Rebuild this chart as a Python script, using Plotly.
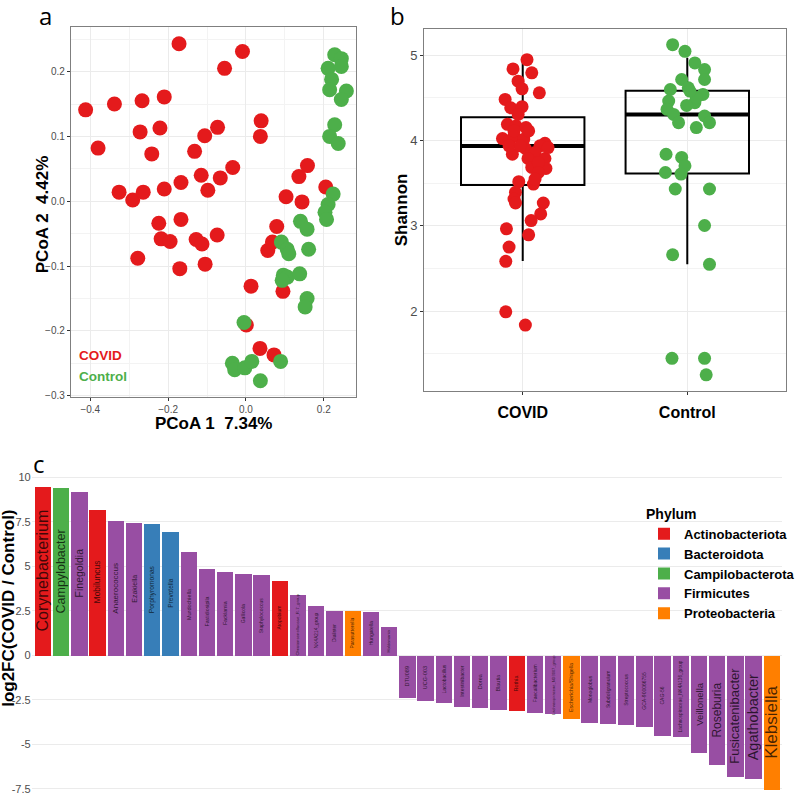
import plotly.graph_objects as go

# ---------------- Panel a: PCoA ----------------
covid_pc1 = [-0.172, -0.009, -0.055, -0.412, -0.338, -0.267, -0.210, -0.380, -0.272, -0.221,
             -0.242, -0.132, -0.106, -0.073, 0.039, 0.037, -0.326, -0.291, -0.264, -0.210,
             -0.167, -0.115, -0.098, -0.066, -0.034, -0.167, -0.224, -0.218, -0.195, -0.278,
             -0.170, -0.128, -0.113, -0.105, -0.074, 0.136, 0.158, 0.103, 0.144, 0.205,
             0.079, 0.056, 0.068, 0.013, 0.095, 0.001, 0.036, 0.072]
covid_pc2 = [0.243, 0.231, 0.205, 0.141, 0.150, 0.155, 0.161, 0.082, 0.107, 0.113,
             0.073, 0.077, 0.101, 0.114, 0.124, 0.100, 0.014, 0.002, 0.014, 0.019,
             0.029, 0.040, 0.017, 0.036, 0.052, -0.028, -0.034, -0.058, -0.062, -0.088,
             -0.104, -0.059, -0.066, -0.097, -0.052, 0.038, 0.055, 0.007, -0.001, 0.022,
             -0.039, -0.076, -0.063, -0.131, -0.139, -0.191, -0.227, -0.237]
control_pc1 = [0.228, 0.245, 0.211, 0.245, 0.220, 0.215, 0.258, 0.245, 0.228, 0.215,
               0.237, 0.224, 0.211, 0.203, 0.207, 0.140, 0.157, 0.161, 0.091, 0.106,
               0.110, 0.096, 0.106, 0.138, 0.093, 0.157, 0.152, -0.005, -0.035, -0.029,
               -0.003, 0.015, 0.089, 0.037]
control_pc2 = [0.226, 0.220, 0.205, 0.208, 0.188, 0.172, 0.170, 0.157, 0.118, 0.100,
               0.089, 0.011, -0.005, -0.017, -0.028, -0.031, -0.043, -0.074, -0.063, -0.074,
               -0.081, -0.114, -0.117, -0.112, -0.122, -0.150, -0.163, -0.187, -0.250, -0.260,
               -0.257, -0.247, -0.247, -0.277]

# ---------------- Panel b: Shannon ----------------
groups = ["COVID", "Control"]
covid_shannon = [4.949, 4.840, 4.794, 4.696, 4.607, 4.560, 4.482, 4.385, 4.397, 4.307,
                 4.191, 4.171, 4.152, 4.023, 3.996, 3.969, 3.938, 3.907, 3.840, 3.860,
                 3.790, 3.790, 3.685, 3.673, 3.743, 3.518, 3.490, 3.393, 3.315, 3.268,
                 3.268, 3.140, 3.062, 2.895, 2.965, 2.751, 2.584, 1.992, 1.837, 4.054,
                 4.016, 3.918, 3.626, 3.938, 4.113, 3.938, 4.113, 3.549]
covid_jitter = [0.026, -0.059, 0.055, -0.028, -0.004, 0.101, -0.107, -0.073, -0.004, -0.028,
                -0.093, -0.040, 0.020, -0.123, -0.083, 0.135, 0.105, 0.016, -0.063, 0.075,
                0.032, 0.135, 0.055, 0.141, 0.095, -0.024, 0.065, -0.044, -0.053, -0.044,
                0.125, 0.109, 0.051, 0.036, -0.099, -0.083, -0.103, -0.103, 0.016, -0.053,
                0.006, 0.154, 0.095, -0.083, 0.036, -0.014, -0.053, 0.075]
control_shannon = [5.125, 5.047, 4.911, 4.833, 4.716, 4.716, 4.619, 4.599, 4.541, 4.444,
                   4.412, 4.463, 4.366, 4.307, 4.288, 4.210, 4.210, 4.152, 3.840, 3.802,
                   3.704, 3.626, 3.607, 3.432, 3.432, 3.004, 2.661, 2.549, 1.447, 1.447,
                   1.253, 4.502, 4.580]
control_jitter = [-0.089, -0.014, 0.046, 0.105, -0.034, 0.105, 0.006, -0.103, 0.095, 0.046,
                  -0.004, -0.113, -0.123, -0.083, 0.105, -0.053, 0.135, 0.055, -0.129, -0.034,
                  -0.014, -0.133, -0.038, -0.073, 0.135, 0.105, -0.089, 0.135, -0.093, 0.105,
                  0.115, 0.055, 0.016]
box_q1 = [3.478, 3.615]
box_median = [3.937, 4.307]
box_q3 = [4.275, 4.583]
box_lower = [2.588, 2.550]
box_upper = [4.940, 4.970]

# ---------------- Panel c: log2FC ----------------
genera = ["Corynebacterium", "Campylobacter", "Finegoldia", "Mobiluncus", "Anaerococcus",
          "Ezakiella", "Porphyromonas", "Prevotella", "Murdochiella", "Fastidiosipila",
          "Facklamia", "Gallicola", "Staphylococcus", "Atopobium", "Christensenellaceae_R-7_group",
          "NK4A214_group", "Dialister", "Parasutterella", "Hungatella", "Holdemania",
          "DTU089", "UCG-003", "Lactobacillus", "Intestinibacter", "Dorea",
          "Blautia", "Rothia", "Faecalibacterium", "Lachnospiraceae_ND3007_group", "Escherichia/Shigella",
          "Monoglobus", "Subdoligranulum", "Streptococcus", "GCA-900066755", "CAG-56",
          "Lachnospiraceae_NK4A136_group", "Veillonella", "Roseburia", "Fusicatenibacter", "Agathobacter",
          "Klebsiella"]
log2fc = [9.47, 9.40, 9.20, 8.21, 7.54, 7.44, 7.41, 6.94, 5.80, 4.87,
          4.72, 4.61, 4.52, 4.18, 3.42, 2.81, 2.51, 2.49, 2.43, 1.63,
          -2.38, -2.54, -2.67, -2.90, -2.92, -3.05, -3.12, -3.20, -3.25, -3.57,
          -3.77, -3.85, -3.90, -3.98, -4.50, -4.56, -5.49, -6.12, -6.79, -6.94,
          -7.53]
phylum = ["Actinobacteriota", "Campilobacterota", "Firmicutes", "Actinobacteriota", "Firmicutes",
          "Firmicutes", "Bacteroidota", "Bacteroidota", "Firmicutes", "Firmicutes",
          "Firmicutes", "Firmicutes", "Firmicutes", "Actinobacteriota", "Firmicutes",
          "Firmicutes", "Firmicutes", "Proteobacteria", "Firmicutes", "Firmicutes",
          "Firmicutes", "Firmicutes", "Firmicutes", "Firmicutes", "Firmicutes",
          "Firmicutes", "Actinobacteriota", "Firmicutes", "Firmicutes", "Proteobacteria",
          "Firmicutes", "Firmicutes", "Firmicutes", "Firmicutes", "Firmicutes",
          "Firmicutes", "Firmicutes", "Firmicutes", "Firmicutes", "Firmicutes",
          "Proteobacteria"]
phyla = ["Actinobacteriota", "Bacteroidota", "Campilobacterota", "Firmicutes", "Proteobacteria"]

# styles
phylum_colors = {"Actinobacteriota": "#E41A1C", "Bacteroidota": "#377EB8",
                 "Campilobacterota": "#4DAF4A", "Firmicutes": "#984EA3",
                 "Proteobacteria": "#FF7F00"}
label_sizes = [16, 12.5, 10.5, 8.5, 8, 7, 6.7, 6.5, 5.5, 5.2,
               5.2, 5, 5, 5, 4.3, 4.8, 5, 5, 5, 4.2,
               5.5, 5.5, 5, 5, 5.5, 5.5, 5.5, 5, 4, 5.5,
               5, 5, 5, 5, 5, 4.6, 9.5, 12, 13, 14.5,
               17]
RED = "#E41A1C"
GREEN = "#4DAF4A"
FONT = "Liberation Sans, Arial, sans-serif"
W, H = 800, 809

def px(x):
    return x / W

def py(y):
    return 1 - y / H

fig = go.Figure()

# Panel a
fig.add_trace(go.Scatter(x=covid_pc1, y=covid_pc2, mode="markers", xaxis="x", yaxis="y",
                         marker=dict(color=RED, size=15, line=dict(width=0)), showlegend=False))
fig.add_trace(go.Scatter(x=control_pc1, y=control_pc2, mode="markers", xaxis="x", yaxis="y",
                         marker=dict(color=GREEN, size=15, line=dict(width=0)), showlegend=False))

# Panel b boxes
BOXW = 0.75
for i, g in enumerate(groups):
    fig.add_trace(go.Box(x=[i + 1], q1=[box_q1[i]], median=[box_median[i]], q3=[box_q3[i]],
                         lowerfence=[box_lower[i]], upperfence=[box_upper[i]],
                         width=BOXW, whiskerwidth=0, fillcolor="rgba(255,255,255,0)",
                         line=dict(color="black", width=2), boxpoints=False,
                         xaxis="x2", yaxis="y2", showlegend=False, hoverinfo="skip"))
    fig.add_trace(go.Scatter(x=[i + 1 - BOXW / 2, i + 1 + BOXW / 2],
                             y=[box_median[i], box_median[i]], mode="lines",
                             line=dict(color="black", width=4), xaxis="x2", yaxis="y2",
                             showlegend=False, hoverinfo="skip"))

fig.add_trace(go.Scatter(x=[1 + j for j in covid_jitter], y=covid_shannon, mode="markers",
                         xaxis="x2", yaxis="y2", marker=dict(color=RED, size=13, line=dict(width=0)),
                         showlegend=False))
fig.add_trace(go.Scatter(x=[2 + j for j in control_jitter], y=control_shannon, mode="markers",
                         xaxis="x2", yaxis="y2", marker=dict(color=GREEN, size=13, line=dict(width=0)),
                         showlegend=False))

# Panel c bars
for p in phyla:
    idx = [i for i, ph in enumerate(phylum) if ph == p]
    fig.add_trace(go.Bar(x=idx, y=[log2fc[i] for i in idx], width=0.9,
                         marker=dict(color=phylum_colors[p], line=dict(width=0)),
                         name=p, xaxis="x3", yaxis="y3", showlegend=True))

annotations = []
for i, g in enumerate(genera):
    annotations.append(dict(x=i, y=log2fc[i] / 2, xref="x3", yref="y3", text=g,
                            textangle=-90, showarrow=False,
                            font=dict(family=FONT, size=label_sizes[i], color="rgba(0,0,0,0.72)"),
                            xanchor="center", yanchor="middle"))

def ann(text, x, y, size, color="black", angle=0, family=FONT, xanchor="center"):
    annotations.append(dict(x=px(x), y=py(y), xref="paper", yref="paper", text=text,
                            textangle=angle, showarrow=False, xanchor=xanchor, yanchor="middle",
                            borderpad=0,
                            font=dict(family=family, size=size, color=color)))

ann("a", 46, 16, 24, family="Open Sans, sans-serif")
ann("b", 404, 16, 24, family="Open Sans, sans-serif")
ann("c", 40, 466, 24, family="Open Sans, sans-serif")
ann("<b>PCoA 2 \u00a04.42%</b>", 44, 216, 17, angle=-90)
ann("<b>PCoA 1 \u00a07.34%</b>", 217, 426, 17)
ann("<b>Shannon</b>", 409, 211, 17, angle=-90)
ann("<b>log2FC(COVID / Control)</b>", 9, 611, 17, angle=-90)
ann("<b>COVID</b>", 79, 357, 13.5, color=RED, xanchor="left")
ann("<b>Control</b>", 79, 378, 13.5, color=GREEN, xanchor="left")

GRID = "#EBEBEB"
BORDER = "#7F7F7F"
TICKC = "#4D4D4D"

common_box = dict(showline=True, mirror=True, linecolor=BORDER, linewidth=1, zeroline=False,
                  ticks="outside", ticklen=3, tickcolor="#333333", gridcolor=GRID, gridwidth=1)

fig.update_layout(
    width=W, height=H, margin=dict(l=0, r=0, t=0, b=0),
    paper_bgcolor="white", plot_bgcolor="white",
    font=dict(family=FONT),
    barmode="relative", bargap=0,
    annotations=annotations,
    xaxis=dict(domain=[px(72), px(362)], anchor="y", range=[-0.45, 0.283],
               dtick=0.2, tick0=0, tickformat=".1f",
               tickfont=dict(size=10, color=TICKC),
               minor=dict(dtick=0.1, tick0=0, showgrid=True, gridcolor="#F3F3F3", gridwidth=0.6),
               **common_box),
    yaxis=dict(domain=[py(399), py(27)], anchor="x", range=[-0.302, 0.269],
               dtick=0.1, tick0=0, tickformat=".1f",
               tickfont=dict(size=10, color=TICKC),
               minor=dict(dtick=0.05, tick0=0, showgrid=True, gridcolor="#F3F3F3", gridwidth=0.6),
               **common_box),
    xaxis2=dict(domain=[px(431), px(799)], anchor="y2", range=[0.4, 2.6],
                tickvals=[1, 2], ticktext=["<b>%s</b>" % g for g in groups],
                tickfont=dict(size=16, color="black"), ticklabelstandoff=4, **common_box),
    yaxis2=dict(domain=[py(393), py(29)], anchor="x2", range=[1.063, 5.31],
                dtick=1, tick0=0, tickfont=dict(size=13, color=TICKC),
                minor=dict(dtick=0.5, tick0=0, showgrid=True, gridcolor="#F3F3F3", gridwidth=0.6),
                **common_box),
    xaxis3=dict(domain=[px(32.2), px(795.4)], anchor="y3", range=[-0.6, 40.6],
                showticklabels=False, showgrid=False, zeroline=False, showline=False, ticks=""),
    yaxis3=dict(domain=[py(808.4), py(473.9)], anchor="x3", range=[-8.38, 10.32],
                tickvals=[-7.5, -5, -2.5, 0, 2.5, 5, 7.5, 10],
                ticktext=["-7.5", "-5", "-2.5", "0", "2.5", "5", "7.5", "10"],
                tickfont=dict(size=11, color=TICKC), showgrid=True, gridcolor=GRID, gridwidth=1,
                zeroline=False, showline=False, ticks=""),
    legend=dict(x=px(655), y=py(503), xanchor="left", yanchor="top",
                bgcolor="rgba(0,0,0,0)",
                title=dict(text="<b>Phylum</b>", font=dict(size=14, color="black")),
                font=dict(size=13, color="black", weight="bold"),
                itemsizing="constant", tracegroupgap=0),
)

fig.write_html("out.html", config={"displayModeBar": False},
               post_script="document.body.style.margin='0px';document.body.style.padding='0px';")
